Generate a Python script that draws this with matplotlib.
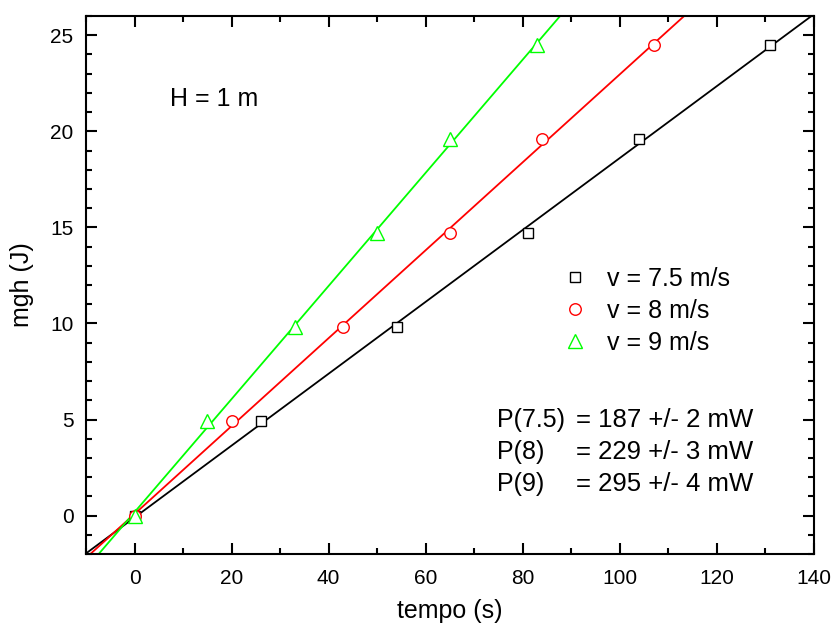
import numpy as np
import matplotlib
matplotlib.use("Agg")
import matplotlib.pyplot as plt
from matplotlib.ticker import MultipleLocator

plt.rcParams['font.family'] = ['Liberation Sans', 'DejaVu Sans']

energy = [0, 4.9, 9.8, 14.7, 19.6, 24.5]
t_75 = [0, 26, 54, 81, 104, 131]
t_8 = [0, 20, 43, 65, 84, 107]
t_9 = [0, 15, 33, 50, 65, 83]
labels = ["v = 7.5 m/s", "v = 8 m/s", "v = 9 m/s"]
colors = ["black", "#ff0000", "#00ff00"]
markers = ["s", "o", "^"]
msizes = [7.7, 8.3, 10]
power_names = ["P(7.5)", "P(8)", "P(9)"]
power_vals = ["= 187 +/- 2 mW", "= 229 +/- 3 mW", "= 295 +/- 4 mW"]

W, H = 834, 632
fig = plt.figure(figsize=(W/100, H/100), dpi=100)
L, R, T, B = 86, 814, 16, 554
ax = fig.add_axes([L/W, (H-B)/H, (R-L)/W, (B-T)/H])

def ax_xy(px, py):
    return ((px-L)/(R-L), (B-py)/(B-T))

xs = np.linspace(-10, 140, 400)
handles = []
for t, c, m, ms, lab in zip([t_75, t_8, t_9], colors, markers, msizes, labels):
    k, b = np.polyfit(t, energy, 1)
    ax.plot(xs, k*xs + b, color=c, lw=1.3, zorder=2)
    h, = ax.plot(t, energy, linestyle='none', marker=m, ms=ms,
                 mfc='white', mec=c, mew=1.0, zorder=3, label=lab)
    handles.append(h)

ax.set_xlim(-10, 140)
ax.set_ylim(-2, 26)
ax.xaxis.set_major_locator(MultipleLocator(20))
ax.xaxis.set_minor_locator(MultipleLocator(10))
ax.yaxis.set_major_locator(MultipleLocator(5))
ax.yaxis.set_minor_locator(MultipleLocator(1))
ax.tick_params(which='both', direction='in', top=True, right=True, labelsize=15, width=1.5)
ax.tick_params(which='major', length=8)
ax.tick_params(which='minor', length=4.5)
ax.tick_params(axis='x', which='major', pad=11)
ax.tick_params(axis='y', which='major', pad=9)
for s in ax.spines.values():
    s.set_linewidth(1.5)

ax.set_xlabel("tempo (s)", fontsize=18)
ax.set_ylabel("mgh (J)", fontsize=18)
ax.xaxis.set_label_coords(0.5, ax_xy(0, 611)[1])
ax.yaxis.set_label_coords(ax_xy(22, 0)[0], 0.5)
ax.xaxis.label.set_va('center')
ax.yaxis.label.set_va('center')

lx, ly = ax_xy(562, 267)
leg = ax.legend(handles=handles, loc='upper left', bbox_to_anchor=(lx, ly),
                frameon=False, fontsize=18, markerscale=1.0, handlelength=1.0,
                handletextpad=0.8, labelspacing=0.32, borderpad=0, borderaxespad=0)

hx, hy = ax_xy(170, 99)
ax.text(hx, hy, "H = 1 m", transform=ax.transAxes, fontsize=18, va='center')
rows_y = [420, 452, 484]
for n, v, py in zip(power_names, power_vals, rows_y):
    x1, y = ax_xy(497, py)
    x2, _ = ax_xy(576, py)
    ax.text(x1, y, n, transform=ax.transAxes, fontsize=18, va='center')
    ax.text(x2, y, v, transform=ax.transAxes, fontsize=18.5, va='center')

fig.savefig("out.png", dpi=100)
